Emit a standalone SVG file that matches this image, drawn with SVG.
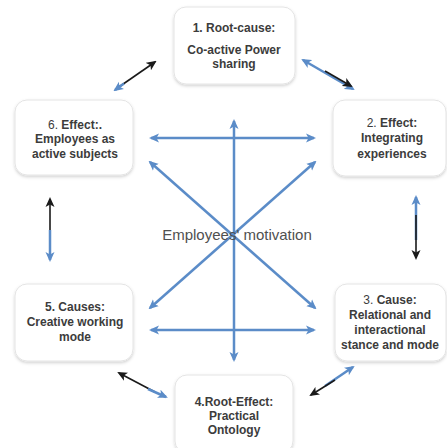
<svg xmlns="http://www.w3.org/2000/svg" width="447" height="448" viewBox="0 0 447 448">
<defs>
<filter id="sh" x="-10%" y="-10%" width="120%" height="130%">
<feDropShadow dx="0" dy="1.5" stdDeviation="1.5" flood-color="#000" flood-opacity="0.18"/>
</filter>
<marker id="ab" viewBox="0 0 10 10" refX="8" refY="5" markerWidth="10" markerHeight="10" markerUnits="userSpaceOnUse" orient="auto-start-reverse">
<path d="M0,0.5 L10,5 L0,9.5 L2.5,5 z" fill="#5b8cc8"/>
</marker>
<marker id="ak" viewBox="0 0 10 10" refX="8" refY="5" markerWidth="10" markerHeight="10" markerUnits="userSpaceOnUse" orient="auto-start-reverse">
<path d="M0,0.5 L10,5 L0,9.5 L2.5,5 z" fill="#1a1a1a"/>
</marker>
</defs>
<style>
.box{fill:#fff;stroke:#e4e4e4;stroke-width:1;filter:url(#sh)}
.t{font-family:"Liberation Sans",Arial,sans-serif;font-size:12px;font-weight:bold;fill:#3c3c3c;text-anchor:middle}
.n{font-weight:normal}
.c{font-family:"Liberation Sans",Arial,sans-serif;font-size:15px;fill:#505050;text-anchor:middle}
.bl{stroke:#5b8cc8;stroke-width:2.5;fill:none}
.bk{stroke:#1a1a1a;stroke-width:1.6;fill:none}
</style>
<rect width="447" height="448" fill="#fff"/>
<g id="connectors">
<line class="bl" x1="151" y1="138" x2="314" y2="138" marker-start="url(#ab)" marker-end="url(#ab)"/>
<line class="bl" x1="151" y1="330" x2="314" y2="330" marker-start="url(#ab)" marker-end="url(#ab)"/>
<line class="bl" x1="234" y1="121" x2="234" y2="360" marker-start="url(#ab)" marker-end="url(#ab)"/>
<line class="bl" x1="150" y1="162" x2="315" y2="308" marker-start="url(#ab)" marker-end="url(#ab)"/>
<line class="bl" x1="150" y1="308" x2="315" y2="162" marker-start="url(#ab)" marker-end="url(#ab)"/>
<line class="bk" x1="116" y1="89" x2="155" y2="62" marker-end="url(#ak)"/>
<line class="bl" x1="124" y1="83.5" x2="115" y2="90" marker-end="url(#ab)"/>
<line class="bl" x1="303" y1="60" x2="353" y2="89" marker-start="url(#ab)" marker-end="url(#ab)"/>
<line class="bk" x1="325" y1="71" x2="351" y2="86" marker-end="url(#ak)"/>
<line class="bk" x1="50" y1="199" x2="50" y2="248" marker-start="url(#ak)"/>
<line class="bl" x1="50" y1="230" x2="50" y2="260" marker-end="url(#ab)"/>
<line class="bl" x1="416" y1="197" x2="416" y2="240" marker-start="url(#ab)"/>
<line class="bk" x1="416" y1="215" x2="416" y2="258" marker-end="url(#ak)"/>
<line class="bk" x1="119" y1="373" x2="155" y2="392" marker-start="url(#ak)"/>
<line class="bl" x1="148" y1="389" x2="166" y2="397" marker-end="url(#ab)"/>
<line class="bl" x1="353" y1="367" x2="325" y2="386" marker-start="url(#ab)"/>
<line class="bk" x1="335" y1="380" x2="311" y2="395" marker-end="url(#ak)"/>
</g>
<text class="c" x="237" y="240">Employees' motivation</text>
<g id="n1">
<rect class="box" x="174" y="7" width="121" height="77" rx="12"/>
<text class="t" x="234" y="32">1. Root-cause:</text>
<text class="t" x="234" y="54">Co-active Power</text>
<text class="t" x="234" y="68">sharing</text>
</g>
<g id="n2">
<rect class="box" x="333" y="100" width="113" height="76" rx="12"/>
<text class="t" x="392" y="127"><tspan class="n">2. </tspan>Effect:</text>
<text class="t" x="392" y="142">Integrating</text>
<text class="t" x="392" y="158">experiences</text>
</g>
<g id="n3">
<rect class="box" x="335" y="284" width="111" height="77" rx="12"/>
<text class="t" x="390" y="304"><tspan class="n">3. </tspan>Cause:</text>
<text class="t" x="390" y="319">Relational and</text>
<text class="t" x="390" y="334">interactional</text>
<text class="t" x="390" y="349">stance and mode</text>
</g>
<g id="n4">
<rect class="box" x="175" y="375" width="118" height="78" rx="12"/>
<text class="t" x="234" y="406">4.Root-Effect:</text>
<text class="t" x="234" y="420">Practical</text>
<text class="t" x="234" y="434">Ontology</text>
</g>
<g id="n5">
<rect class="box" x="15" y="284" width="118" height="77" rx="12"/>
<text class="t" x="75" y="311">5. Causes:</text>
<text class="t" x="75" y="326">Creative working</text>
<text class="t" x="75" y="341">mode</text>
</g>
<g id="n6">
<rect class="box" x="15" y="100" width="118" height="75" rx="12"/>
<text class="t" x="75" y="129"><tspan class="n">6. </tspan>Effect:.</text>
<text class="t" x="75" y="143">Employees as</text>
<text class="t" x="75" y="158">active subjects</text>
</g>
</svg>
